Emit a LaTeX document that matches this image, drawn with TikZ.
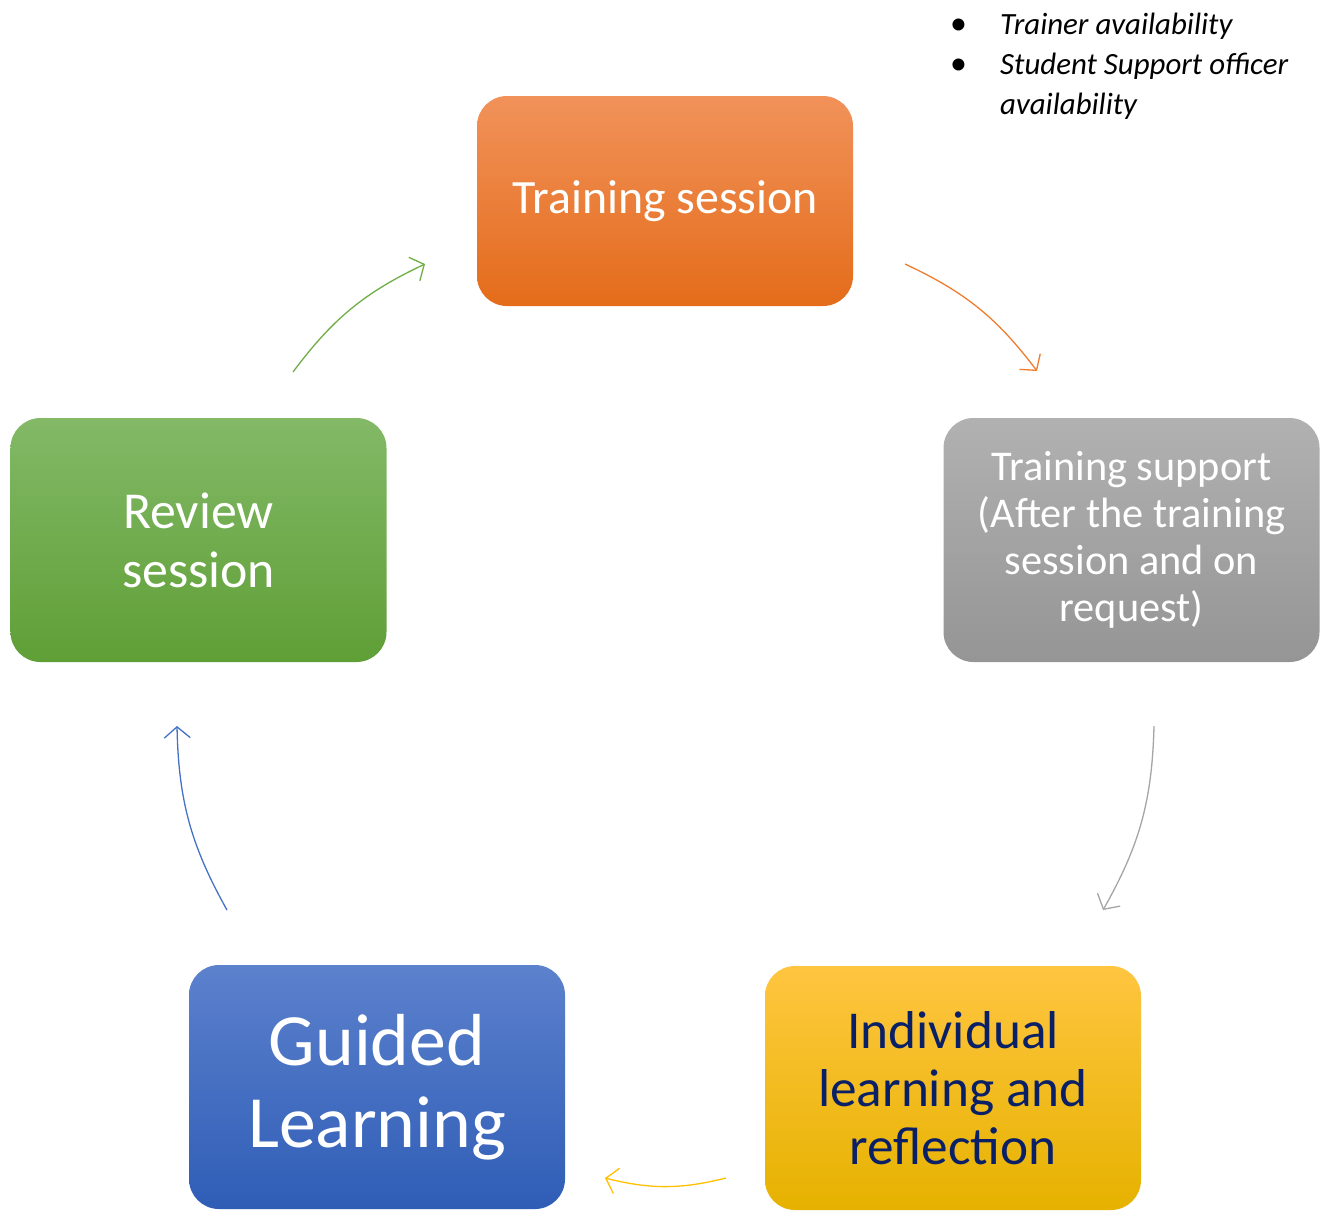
\documentclass[tikz,border=0pt]{standalone}
\usepackage{fontspec}
\setmainfont{Carlito}
\usetikzlibrary{arrows.meta}
\definecolor{orgT}{HTML}{F1925A}\definecolor{orgM}{HTML}{F07C2D}\definecolor{orgB}{HTML}{E46C1A}
\definecolor{gryT}{HTML}{B1B1B1}\definecolor{gryM}{HTML}{A5A5A5}\definecolor{gryB}{HTML}{959595}
\definecolor{gldT}{HTML}{FFC540}\definecolor{gldM}{HTML}{FFC000}\definecolor{gldB}{HTML}{E6B200}
\definecolor{bluT}{HTML}{5C81CD}\definecolor{bluM}{HTML}{4472C4}\definecolor{bluB}{HTML}{2F5DB6}
\definecolor{grnT}{HTML}{83B967}\definecolor{grnM}{HTML}{70AD47}\definecolor{grnB}{HTML}{5F9F36}
\definecolor{navytext}{HTML}{0A2066}
\begin{document}
\begin{tikzpicture}[x=1bp,y=-1bp,
  cycbox/.style={rounded corners=30bp,minimum width=376bp,minimum height=244bp,
    align=center,text=white,inner sep=0pt},
  cycarrow/.style={line width=1.3bp,-{Straight Barb[length=11bp,width=26bp]},bend left=14}]
\useasboundingbox (0,0) rectangle (1325,1210);
% the five stages of the cycle
\node[cycbox,minimum height=210bp,top color=orgT,middle color=orgM,bottom color=orgB,
  font=\fontsize{48}{52}\selectfont] (train) at (665,201) {Training session};
\node[cycbox,top color=gryT,middle color=gryM,bottom color=gryB,
  font=\fontsize{42.5}{47}\selectfont] (support) at (1131.5,540)
  {Training support\\(After the training\\session and on\\request)};
\node[cycbox,top color=gldT,middle color=gldM,bottom color=gldB,text=navytext,
  font=\fontsize{53.5}{58.5}\selectfont] (indiv) at (953,1088)
  {Individual\\learning and\\reflection};
\node[cycbox,top color=bluT,middle color=bluM,bottom color=bluB,
  font=\fontsize{74}{82}\selectfont] (guided) at (377,1087) {Guided\\Learning};
\node[cycbox,top color=grnT,middle color=grnM,bottom color=grnB,
  font=\fontsize{52}{59}\selectfont] (review) at (198.5,540) {Review\\session};
% availability notes
\node[anchor=north west,align=left,inner sep=0pt,font=\fontsize{31}{40}\selectfont\itshape] (avail) at (950,13)
  {\makebox[50bp][l]{\upshape\fontsize{34}{40}\selectfont\textbullet}Trainer availability\\
   \makebox[50bp][l]{\upshape\fontsize{34}{40}\selectfont\textbullet}Student Support officer\\
   \makebox[50bp][l]{}availability};
% arrow ends
\coordinate (o1) at (905,264); \coordinate (o2) at (1037,371);
\coordinate (g1) at (1154,726); \coordinate (g2) at (1103,910);
\coordinate (y1) at (726,1178); \coordinate (y2) at (605,1178);
\coordinate (b1) at (227,910); \coordinate (b2) at (177,726);
\coordinate (n1) at (293,372); \coordinate (n2) at (425,264);
\draw[cycarrow,orgM] (o1) to (o2);
\draw[cycarrow,gryM] (g1) to (g2);
\draw[cycarrow,gldM] (y1) to (y2);
\draw[cycarrow,bluM] (b1) to (b2);
\draw[cycarrow,grnM] (n1) to (n2);
\end{tikzpicture}
\end{document}
